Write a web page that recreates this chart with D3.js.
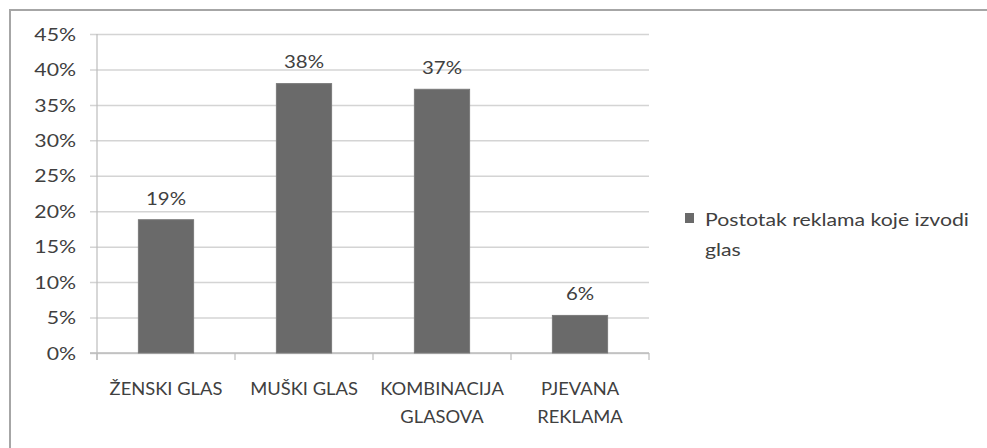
<!DOCTYPE html>
<html><head><meta charset="utf-8">
<script src="https://cdn.jsdelivr.net/npm/d3@7"></script>
<style>html,body{margin:0;padding:0;background:#fff;}svg{display:block;}</style>
</head><body>
<script>
const categories = [["ŽENSKI GLAS"], ["MUŠKI GLAS"], ["KOMBINACIJA", "GLASOVA"], ["PJEVANA", "REKLAMA"]];
const categoryKeys = ["ŽENSKI GLAS", "MUŠKI GLAS", "KOMBINACIJA GLASOVA", "PJEVANA REKLAMA"];
const values = [0.188, 0.380, 0.372, 0.053];
const valueLabels = ["19%", "38%", "37%", "6%"];
const yTicks = [0, 0.05, 0.10, 0.15, 0.20, 0.25, 0.30, 0.35, 0.40, 0.45];
const legendLines = ["Postotak reklama koje izvodi", "glas"];

const W = 987, H = 448;
const FONT = "Lato, 'Open Sans', sans-serif";
const TXT = "#404040";
const FS = 17;

const svg = d3.select("body").append("svg").attr("width", W).attr("height", H);
svg.append("rect").attr("x", 10).attr("y", 10).attr("width", W).attr("height", H)
  .attr("fill", "#fff").attr("stroke", "#a6a6a6").attr("stroke-width", 2);

const x = d3.scaleBand().domain(categoryKeys).range([97, 649]).paddingInner(0.6).paddingOuter(0.3);
const y = d3.scaleLinear().domain([0, 0.45]).range([353, 34]);

function txt(g, tx, ty, s, anchor, k) {
  return g.append("text").attr("transform", `translate(${tx},${ty}) scale(${k},1)`)
    .attr("text-anchor", anchor).attr("dominant-baseline", "central")
    .attr("font-family", FONT).attr("font-size", FS).attr("fill", TXT).text(s);
}

// gridlines
const yAxis = d3.axisLeft(y).tickValues(yTicks).tickSize(-(649 - 90)).tickFormat(d3.format(".0%"));
const gy = svg.append("g").attr("transform", "translate(90,0)").call(yAxis);
gy.select(".domain").remove();
gy.selectAll(".tick line").attr("stroke", "#d4d4d4").attr("stroke-width", 1.5);
gy.selectAll(".tick text").remove();
yTicks.forEach(t => txt(svg, 76, y(t), d3.format(".0%")(t), "end", 1.25));
// vertical axis line
svg.append("line").attr("x1", 97).attr("x2", 97).attr("y1", 34).attr("y2", 360)
  .attr("stroke", "#bdbdbd").attr("stroke-width", 1.2);
// baseline
svg.append("line").attr("x1", 90).attr("x2", 649).attr("y1", y(0)).attr("y2", y(0))
  .attr("stroke", "#bdbdbd").attr("stroke-width", 1.5);
// category tick marks at band boundaries
const step = x.step();
const bounds = categoryKeys.map(c => x(c) - (step - x.bandwidth()) / 2).concat([649]);
bounds.forEach(b => svg.append("line").attr("x1", b).attr("x2", b).attr("y1", y(0)).attr("y2", y(0) + 7)
  .attr("stroke", "#bdbdbd").attr("stroke-width", 1.2));

// bars
svg.selectAll("rect.bar").data(values).enter().append("rect").attr("class", "bar")
  .attr("x", (d, i) => x(categoryKeys[i])).attr("width", x.bandwidth())
  .attr("y", d => y(d)).attr("height", d => y(0) - y(d))
  .attr("fill", "#6a6a6a").attr("stroke", "#7a7a7a").attr("stroke-width", 1);

// value labels
values.forEach((v, i) => txt(svg, x(categoryKeys[i]) + x.bandwidth() / 2, y(v) - 22, valueLabels[i], "middle", 1.2));

// category labels
categories.forEach((lines, i) => {
  const cx = x(categoryKeys[i]) + x.bandwidth() / 2;
  lines.forEach((l, j) => txt(svg, cx, 389 + j * 28, l, "middle", 1.08));
});

// legend
svg.append("rect").attr("x", 685).attr("y", 213).attr("width", 9).attr("height", 10).attr("fill", "#6a6a6a");
legendLines.forEach((l, j) => txt(svg, 705, 219 + j * 30, l, "start", 1.25));
</script>
</body></html>
